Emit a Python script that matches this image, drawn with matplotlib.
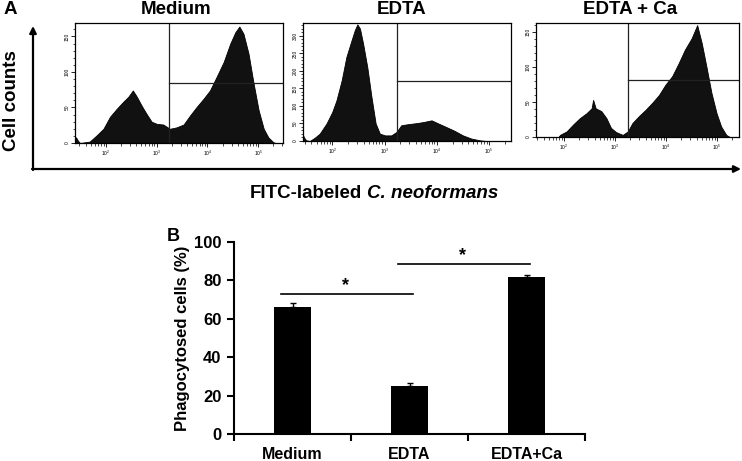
import numpy as np
import matplotlib
matplotlib.use("Agg")
import matplotlib.pyplot as plt
from matplotlib.ticker import LogLocator, MultipleLocator, NullFormatter, FixedLocator

plt.rcParams['font.family'] = ['Liberation Sans', 'DejaVu Sans']

# ---- panel A: flow cytometry histograms (log10 fluorescence, counts) ----
panel_titles = ["Medium", "EDTA", "EDTA + Ca"]

medium_log = [1.39, 1.41, 1.45, 1.49, 1.68, 1.82, 1.95, 2.08, 2.21, 2.34, 2.44, 2.53, 2.61, 2.70,
              2.80, 2.90, 3.00, 3.13, 3.26, 3.39, 3.53, 3.66, 3.79, 3.92, 4.05, 4.18, 4.32,
              4.45, 4.55, 4.63, 4.71, 4.81, 4.91, 5.01, 5.11, 5.20, 5.30, 5.35]
medium_cnt = [4, 8, 3, 0, 2, 11, 20, 37, 48, 58, 65, 74, 65, 53,
              41, 30, 27, 26, 20, 22, 26, 39, 51, 62, 74, 93, 114,
              140, 156, 164, 154, 126, 84, 46, 20, 8, 1, 0]

edta_log = [1.43, 1.46, 1.50, 1.57, 1.67, 1.76, 1.89, 2.00, 2.08, 2.18, 2.27, 2.37, 2.43, 2.48,
            2.53, 2.59, 2.67, 2.75, 2.83, 2.91, 3.01, 3.13, 3.23, 3.32, 3.45, 3.61, 3.74,
            3.90, 4.03, 4.18, 4.34, 4.50, 4.66, 4.82, 4.95]
edta_cnt = [21, 10, 2, 0, 10, 21, 50, 83, 116, 173, 240, 288, 316, 333,
            321, 278, 211, 126, 50, 21, 16, 16, 26, 45, 48, 51, 54,
            59, 50, 40, 29, 16, 7, 2, 0]

edtaca_log = [1.89, 1.92, 2.05, 2.18, 2.31, 2.44, 2.54, 2.57, 2.62, 2.73, 2.83, 2.92, 3.02,
              3.15, 3.25, 3.34, 3.47, 3.60, 3.73, 3.86, 3.99, 4.12, 4.25, 4.37, 4.50, 4.61,
              4.70, 4.79, 4.89, 4.99, 5.08, 5.18, 5.25]
edtaca_cnt = [0, 3, 8, 18, 27, 34, 41, 53, 41, 37, 27, 13, 7,
              3, 8, 20, 30, 39, 49, 60, 75, 87, 106, 125, 141, 160,
              134, 101, 63, 34, 15, 3, 0]

gate_log = [3.25, 3.24, 3.25]
gate_cnt = [85, 170, 82]

# ---- panel B: bar chart ----
groups = ["Medium", "EDTA", "EDTA+Ca"]
phago = [66, 25, 82]
phago_err = [2.2, 1.8, 1.0]
sig_pairs = [(0, 1), (1, 2)]
sig_levels = [72.7, 88.3]

W, H = 742, 461
fig = plt.figure(figsize=(W / 100, H / 100), dpi=100)


def px(x0, y0, x1, y1):
    return [x0 / W, 1 - y1 / H, (x1 - x0) / W, (y1 - y0) / H]


# overlay for arrows and free text
ov = fig.add_axes([0, 0, 1, 1])
ov.set_xlim(0, W)
ov.set_ylim(H, 0)
ov.axis("off")

ov.annotate("", xy=(33, 26), xytext=(33, 170),
            arrowprops=dict(arrowstyle="-|>", lw=1.6, color="black", mutation_scale=10, shrinkA=0, shrinkB=0))
ov.annotate("", xy=(741, 169), xytext=(32, 169),
            arrowprops=dict(arrowstyle="-|>", lw=1.6, color="black", mutation_scale=10, shrinkA=0, shrinkB=0))
ov.text(10, 9, "A", fontsize=13.5, fontweight="bold", ha="center", va="center")
ov.text(12, 101, "Cell counts", fontsize=13.5, fontweight="bold", rotation=90, ha="center", va="center")
ov.text(362, 193, "FITC-labeled", fontsize=13.5, fontweight="bold", ha="right", va="center")
ov.text(367, 193, "C. neoformans", fontsize=13.5, fontweight="bold", style="italic", ha="left", va="center")
ov.text(173, 236, "B", fontsize=13, fontweight="bold", ha="center", va="center")

title_x = [176, 402, 630]
for t, tx in zip(panel_titles, title_x):
    ov.text(tx, 10, t, fontsize=13.5, fontweight="bold", ha="center", va="center")

panel_boxes = [(75, 23, 283, 143), (303, 23, 511, 141), (536, 23, 739, 137)]
panel_xlim = [(1.39, 5.49), (1.44, 5.42), (1.45, 5.43)]
panel_ylim = [169, 337, 163]
panel_data = [(medium_log, medium_cnt), (edta_log, edta_cnt), (edtaca_log, edtaca_cnt)]

for i in range(3):
    ax = fig.add_axes(px(*panel_boxes[i]))
    lx, cnt = panel_data[i]
    xs = 10 ** np.array(lx)
    ax.fill_between(xs, cnt, 0, color="#111111", edgecolor="black", lw=0.6)
    ax.set_xscale("log")
    ax.set_xlim(10 ** panel_xlim[i][0], 10 ** panel_xlim[i][1])
    ax.set_ylim(0, panel_ylim[i])
    g = 10 ** gate_log[i]
    ax.plot([g, g], [0, panel_ylim[i]], color="#222222", lw=0.9)
    ax.plot([g, 10 ** panel_xlim[i][1]], [gate_cnt[i], gate_cnt[i]], color="#222222", lw=0.9)
    for s in ax.spines.values():
        s.set_linewidth(0.9)
    ax.xaxis.set_major_locator(LogLocator(base=10, numticks=10))
    ax.xaxis.set_minor_locator(LogLocator(base=10, subs=np.arange(2, 10), numticks=10))
    ax.xaxis.set_minor_formatter(NullFormatter())
    ax.yaxis.set_major_locator(MultipleLocator(50))
    ax.yaxis.set_minor_locator(MultipleLocator(10))
    ax.tick_params(axis="both", which="major", direction="out", length=3, width=0.6, labelsize=3.5, pad=1)
    ax.tick_params(axis="both", which="minor", direction="out", length=1.8, width=0.5)
    ax.tick_params(axis="y", labelrotation=90)
    for lab in ax.get_yticklabels():
        lab.set_va("center")

# bar chart
bx = fig.add_axes(px(234, 242, 585, 434))
pos = np.arange(len(groups))
bx.bar(pos, phago, width=0.32, color="black")
bx.errorbar(pos, phago, yerr=[np.zeros(3), phago_err], fmt="none", ecolor="black",
            elinewidth=1, capsize=2, capthick=1)
bx.set_xlim(-0.5, 2.5)
bx.set_ylim(0, 100)
bx.yaxis.set_major_locator(MultipleLocator(20))
bx.xaxis.set_major_locator(FixedLocator([-0.5, 0.5, 1.5, 2.5]))
bx.xaxis.set_major_formatter(NullFormatter())
bx.xaxis.set_minor_locator(FixedLocator(pos))
bx.set_xticklabels(groups, minor=True, fontsize=11.5, fontweight="bold")
bx.tick_params(axis="x", which="minor", length=0, pad=9)
bx.tick_params(axis="both", which="major", direction="out", length=5, width=1.5)
bx.tick_params(axis="y", labelsize=12, pad=4)
for lab in bx.get_yticklabels():
    lab.set_fontweight("bold")
for s in ["top", "right"]:
    bx.spines[s].set_visible(False)
for s in ["left", "bottom"]:
    bx.spines[s].set_linewidth(1.5)
bx.set_ylabel("Phagocytosed cells (%)", fontsize=12, fontweight="bold", labelpad=3)

for (a, b), lev in zip(sig_pairs, sig_levels):
    bx.plot([a - 0.1, b + 0.03], [lev, lev], color="black", lw=1.2)
    bx.text((a + b) / 2 - 0.05, lev + 4.5, "*", fontsize=13, fontweight="bold", ha="center", va="center")

fig.savefig("out.png", dpi=100)
